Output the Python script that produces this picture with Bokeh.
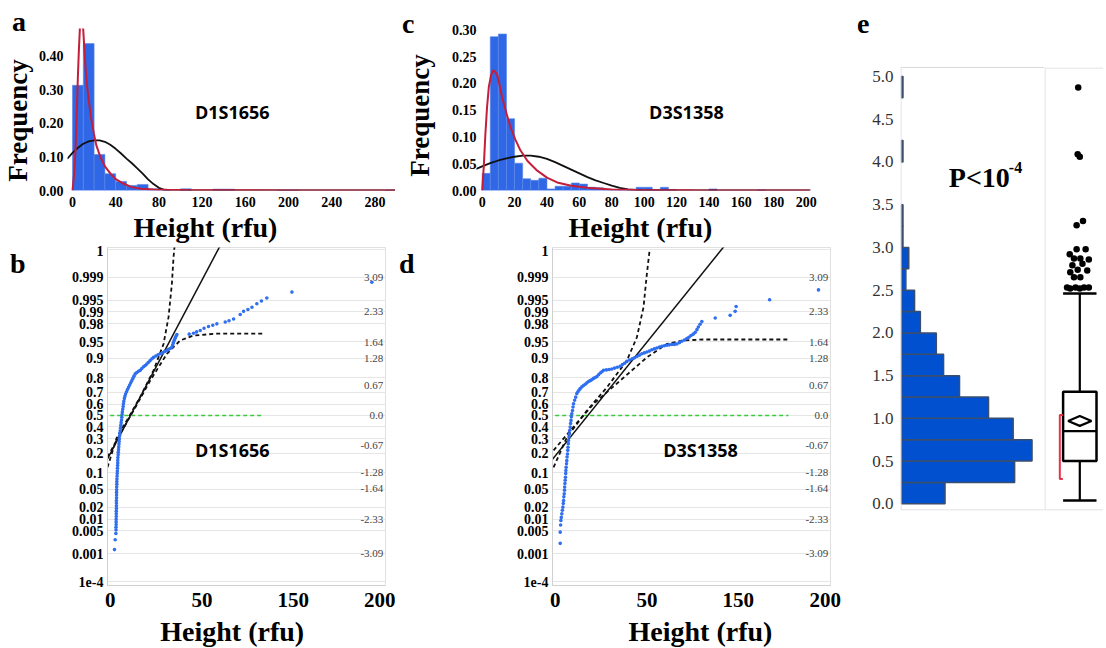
import math
from bokeh.plotting import figure
from bokeh.layouts import row, column
from bokeh.models import (FixedTicker, Label, Range1d, NumeralTickFormatter, LinearAxis, Title)
from bokeh.embed import file_html
from bokeh.resources import INLINE
from bokeh.core.properties import value

SERIF = "Liberation Serif"
SANS = "Open Sans"

# ---------------- panel a : D1S1656 frequency histogram ----------------
a_bin_left = list(range(0, 300, 10))
a_freq = [0.313, 0.437, 0.107, 0.050, 0.027, 0.015, 0.018, 0.005, 0.002, 0.0,
          0.005, 0.0, 0.0, 0.004, 0.004, 0.0, 0.0, 0.0, 0.0, 0.001,
          0.001, 0.0, 0.0, 0.0, 0.0, 0.0, 0.0, 0.0, 0.0, 0.001]
a_lognorm_x = [0, 1.5, 2.8, 3.5, 4.3, 5.0, 5.9, 6.8, 7.4, 8.0, 9.0, 9.9, 11.0, 12.0, 13.5, 15.1,
               17.0, 19.8, 22.0, 25.9, 30.0, 35.2, 40.0, 47.5, 55.0, 63.0, 75.0, 87.7, 110.0,
               149.0, 200.0, 303.0]
a_lognorm_y = [0, 0.05, 0.119, 0.19, 0.268, 0.34, 0.417, 0.48, 0.51, 0.52, 0.51, 0.48, 0.42, 0.367,
               0.31, 0.268, 0.22, 0.169, 0.135, 0.099, 0.072, 0.05, 0.034, 0.02, 0.010, 0.005,
               0.003, 0.002, 0.001, 0.0005, 0.0003, 0.0]
a_normal_x = [-5, 0, 5, 10, 15, 20, 25, 30, 35, 40, 45, 50, 55, 60, 65, 70, 75, 80, 85, 90, 305]
a_normal_y = [0.094, 0.112, 0.127, 0.139, 0.146, 0.149, 0.149, 0.145, 0.136, 0.124, 0.110, 0.095,
              0.081, 0.066, 0.050, 0.033, 0.019, 0.008, 0.002, 0.0, 0.0]
a_xticks = [0, 40, 80, 120, 160, 200, 240, 280]
a_yticks = [0.0, 0.1, 0.2, 0.3, 0.4]

# ---------------- panel c : D3S1358 frequency histogram ----------------
c_bin_left = list(range(0, 210, 5))
c_freq = [0.032, 0.287, 0.292, 0.134, 0.051, 0.022, 0.019, 0.023, 0.003, 0.008,
          0.008, 0.014, 0.012, 0.006, 0.005, 0.002, 0.002, 0.002, 0.001, 0.006,
          0.006, 0.002, 0.006, 0.002, 0.0, 0.0, 0.0, 0.0, 0.003, 0.0,
          0.0, 0.0, 0.0, 0.0, 0.001, 0.0, 0.0, 0.0, 0.0, 0.0, 0.0, 0.001]
c_lognorm_x = [0, 1.0, 2.0, 3.0, 4.1, 5.5, 6.8, 8.0, 9.3, 10.8, 12.3, 15.0, 17.5, 20.5, 23.6, 28.0,
               34.0, 40.0, 46.3, 55.0, 64.8, 80.0, 95.7, 130.0, 202.0]
c_lognorm_y = [0, 0.045, 0.106, 0.155, 0.193, 0.215, 0.224, 0.222, 0.215, 0.196, 0.174, 0.144, 0.118,
               0.095, 0.075, 0.055, 0.037, 0.024, 0.015, 0.009, 0.005, 0.002, 0.001, 0.0005, 0.0]
c_normal_x = [-4, 0, 5, 10, 15, 20, 25, 30, 35, 40, 45, 50, 55, 60, 65, 70, 75, 80, 85, 90, 95, 100, 205]
c_normal_y = [0.040, 0.045, 0.051, 0.056, 0.060, 0.063, 0.065, 0.065, 0.063, 0.059, 0.053, 0.046,
              0.039, 0.032, 0.025, 0.019, 0.014, 0.009, 0.005, 0.002, 0.001, 0.0, 0.0]
c_xticks = [0, 20, 40, 60, 80, 100, 120, 140, 160, 180, 200]
c_yticks = [0.0, 0.05, 0.10, 0.15, 0.20, 0.25, 0.30]

# ---------------- normal probability axis (shared by b and d) ----------------
prob_z = [3.719, 3.090, 2.576, 2.326, 2.054, 1.645, 1.282, 0.842, 0.524, 0.253, 0.0,
          -0.253, -0.524, -0.842, -1.282, -1.645, -2.054, -2.326, -2.576, -3.090, -3.719]
prob_labels = ["1", "0.999", "0.995", "0.99", "0.98", "0.95", "0.9", "0.8", "0.7", "0.6", "0.5",
               "0.4", "0.3", "0.2", "0.1", "0.05", "0.02", "0.01", "0.005", "0.001", "1e-4"]
zscore_vals = [3.09, 2.33, 1.64, 1.28, 0.67, 0.0, -0.67, -1.28, -1.64, -2.33, -3.09]
zscore_text = ["3.09", "2.33", "1.64", "1.28", "0.67", "0.0", "-0.67", "-1.28", "-1.64", "-2.33", "-3.09"]
pp_xticks = [0, 67.9, 135.6, 200]
pp_xlabels = ["0", "50", "150", "200"]

# ---------------- panel b : D1S1656 normal probability plot ----------------
b_x = [3.2, 3.7, 4.2, 4.3, 4.3, 4.4, 4.4, 4.4, 4.5, 4.5, 4.5, 4.6, 4.6, 4.6, 4.6, 4.7, 4.7, 4.7,
       4.8, 4.8, 4.9, 4.9, 5.0, 5.1, 5.2, 5.3, 5.4, 5.5, 5.6, 5.6, 5.7, 5.9, 6.0, 6.2, 6.3, 6.5,
       6.6, 6.8, 7.0, 7.2, 7.4, 7.6, 7.9, 8.1, 8.4, 8.6, 8.8, 9.0, 9.3, 9.6, 9.8, 10.1, 10.5,
       10.9, 11.4, 12.1, 12.8, 13.6, 14.4, 15.2, 16.0, 16.8, 17.6, 18.5, 19.7, 21.0, 22.2, 23.4,
       24.7, 25.9, 27.1, 28.4, 29.6, 30.9, 32.1, 33.8, 35.4, 37.0, 38.7, 40.3, 42.0, 43.2, 44.5,
       45.7, 46.3, 46.8, 47.4, 48.1, 48.7, 49.4,
       58.5, 61.7, 64.0, 66.7, 69.5, 72.8, 76.0, 79.0, 85.2, 88.0, 91.4, 96.3, 98.8, 102.0,
       105.0, 108.6, 112.0, 116.0, 134.6, 193.8]
b_z = [-3.00, -2.78, -2.64, -2.56, -2.50, -2.44, -2.38, -2.32, -2.26, -2.20, -2.14, -2.08, -2.02,
       -1.96, -1.90, -1.84, -1.78, -1.72, -1.66, -1.60, -1.54, -1.48, -1.42, -1.36, -1.30, -1.24,
       -1.18, -1.12, -1.06, -1.00, -0.94, -0.88, -0.82, -0.76, -0.70, -0.64, -0.58, -0.52, -0.46,
       -0.40, -0.34, -0.28, -0.22, -0.16, -0.10, -0.04, 0.02, 0.08, 0.14, 0.20, 0.26, 0.32, 0.38,
       0.43, 0.48, 0.53, 0.58, 0.63, 0.68, 0.73, 0.78, 0.83, 0.88, 0.93, 0.96, 0.99, 1.01, 1.05,
       1.09, 1.12, 1.15, 1.19, 1.23, 1.27, 1.30, 1.33, 1.36, 1.38, 1.40, 1.43, 1.45, 1.48, 1.50,
       1.53, 1.58, 1.63, 1.68, 1.73, 1.77, 1.81,
       1.82, 1.84, 1.87, 1.90, 1.95, 1.99, 2.02, 2.05, 2.09, 2.12, 2.16, 2.26, 2.33, 2.37,
       2.42, 2.50, 2.56, 2.63, 2.76, 2.98]
b_fit_x = [-2.0, 82.0]
b_fit_z = [-0.97, 3.83]
b_upper_x = [-2.0, 4.9, 12.3, 22.2, 32.1, 39.5, 43.2, 45.7, 46.9, 47.7]
b_upper_z = [-1.16, -0.49, -0.11, 0.41, 1.01, 1.60, 2.20, 2.95, 3.54, 3.80]
b_lower_x = [-2.0, 7.4, 17.3, 29.6, 42.0, 51.9, 61.7, 79.0, 113.6]
b_lower_z = [-0.93, -0.41, 0.11, 0.78, 1.38, 1.68, 1.79, 1.83, 1.83]
b_median_x = [0, 113.6]

# ---------------- panel d : D3S1358 normal probability plot ----------------
d_x = [3.7, 3.7, 4.0, 4.2, 4.5, 4.9, 5.3, 5.7, 6.0, 6.2, 6.4, 6.7, 6.9, 7.0, 7.2, 7.4, 7.6, 7.8,
       7.9, 8.1, 8.4, 8.6, 8.8, 9.1, 9.3, 9.5, 9.7, 9.9, 10.2, 10.5, 10.8, 11.1, 11.4, 11.7, 12.0,
       12.3, 12.8, 13.2, 13.6, 14.4, 15.2, 16.0, 16.8, 17.7, 18.5, 19.7, 21.0, 22.2, 23.5, 24.7,
       25.9, 27.1, 28.4, 29.6, 30.9, 32.1, 33.4, 34.6, 35.8, 37.9, 40.0, 42.0, 44.0, 46.0, 48.1,
       49.8, 51.4, 53.1, 55.0, 57.0, 58.7, 60.5, 62.3, 64.2, 66.0, 67.9, 69.7, 71.6, 73.4, 75.3,
       77.2, 79.0, 80.8, 82.7, 84.5, 86.4, 88.2, 90.1, 92.0, 93.8, 95.7, 97.5, 99.0, 100.6,
       102.2, 103.7, 105.0, 106.0, 107.3, 108.6, 118.5, 129.6, 133.3, 134.0, 158.8, 195.0]
d_z = [-2.86, -2.61, -2.45, -2.35, -2.28, -2.20, -2.12, -2.05, -1.97, -1.90, -1.82, -1.75, -1.67,
       -1.60, -1.52, -1.45, -1.38, -1.30, -1.23, -1.16, -1.08, -1.01, -0.93, -0.86, -0.78, -0.71,
       -0.63, -0.56, -0.48, -0.41, -0.33, -0.26, -0.18, -0.11, -0.03, 0.04, 0.11, 0.19, 0.26,
       0.34, 0.41, 0.49, 0.53, 0.57, 0.60, 0.64, 0.67, 0.70, 0.73, 0.76, 0.78, 0.80, 0.83, 0.85,
       0.87, 0.91, 0.95, 0.98, 1.01, 1.02, 1.03, 1.04, 1.06, 1.08, 1.10, 1.14, 1.17, 1.21, 1.24,
       1.27, 1.29, 1.32, 1.35, 1.38, 1.40, 1.42, 1.44, 1.47, 1.49, 1.51, 1.53, 1.55, 1.56, 1.57,
       1.58, 1.59, 1.59, 1.60, 1.63, 1.66, 1.69, 1.72, 1.75, 1.79, 1.82, 1.86, 1.92, 1.98, 2.04,
       2.10, 2.18, 2.24, 2.33, 2.44, 2.59, 2.81]
d_fit_x = [-2.0, 125.0]
d_fit_z = [-0.98, 3.78]
d_upper_x = [-1.2, 8.6, 23.5, 38.3, 53.1, 60.5, 65.4, 67.9, 69.9]
d_upper_z = [-1.16, -0.49, 0.11, 0.63, 1.23, 1.75, 2.42, 3.17, 3.69]
d_lower_x = [-1.2, 11.1, 28.4, 48.1, 67.9, 82.7, 95.1, 109.9, 172.8]
d_lower_z = [-0.78, -0.34, 0.26, 0.78, 1.30, 1.60, 1.68, 1.70, 1.70]
d_median_x = [0, 172.8]

# ---------------- panel e : distribution + box plot ----------------
e_bin_low = [0.0, 0.25, 0.5, 0.75, 1.0, 1.25, 1.5, 1.75, 2.0, 2.25, 2.5, 2.75, 3.0, 3.25,
             3.5, 3.75, 4.0, 4.25, 4.5, 4.75]
e_count = [30, 78, 90, 77, 60, 40, 29, 24, 13, 9, 3, 5, 1, 1, 0, 0, 1, 0, 0, 1]
e_yticks = [0.0, 0.5, 1.0, 1.5, 2.0, 2.5, 3.0, 3.5, 4.0, 4.5, 5.0]
box_q1, box_median, box_q3 = 0.50, 0.85, 1.31
box_mean = 0.97
whisker_low, whisker_high = 0.04, 2.46
shortest_half = [0.29, 1.04]
outlier_vals = [4.87, 4.09, 4.06, 3.26, 3.31, 2.98, 2.98, 2.92, 2.87, 2.87, 2.86, 2.81, 2.79,
                2.74, 2.73, 2.71, 2.65, 2.65, 2.53, 2.53, 2.53, 2.53, 2.52, 2.52]
outlier_jitter = [-0.03, -0.04, 0.0, -0.06, 0.06, -0.06, 0.11, -0.19, -0.11, 0.01, 0.17, 0.05,
                  -0.14, -0.04, 0.14, -0.18, -0.11, 0.01, -0.08, 0.08, -0.24, 0.17, -0.18, 0.0]


def make_fig(cw, ch, left, right, top, bottom, xr, yr, **kw):
    p = figure(width=cw, height=ch, frame_width=cw - left - right, frame_height=ch - top - bottom,
               min_border_left=left, min_border_right=right, min_border_top=top,
               min_border_bottom=bottom, x_range=Range1d(*xr), y_range=Range1d(*yr),
               toolbar_location=None, output_backend="svg", **kw)
    try:
        p.frame_align = False
    except Exception:
        pass
    p.background_fill_color = "white"
    p.border_fill_color = "white"
    return p


def style_axis(ax, size, standoff, color="black", bold=True):
    ax.axis_line_color = None
    ax.major_tick_line_color = None
    ax.minor_tick_line_color = None
    ax.major_tick_out = 0
    ax.major_tick_in = 0
    ax.minor_tick_out = 0
    ax.major_label_text_font = SERIF
    ax.major_label_text_font_style = "bold" if bold else "normal"
    ax.major_label_text_font_size = size
    ax.major_label_text_color = color
    ax.major_label_standoff = standoff


def text_axis(p, side, pos, text, size, standoff, orientation="horizontal"):
    ax = LinearAxis(ticker=FixedTicker(ticks=[pos]))
    ax.major_label_overrides = {pos: text}
    style_axis(ax, size, standoff)
    ax.major_label_orientation = orientation
    p.add_layout(ax, side)


def letter(p, text, offset, standoff):
    p.add_layout(Title(text=text, align="left", offset=offset, standoff=standoff,
                       vertical_align="middle", text_font=SERIF, text_font_size="28px",
                       text_font_style="bold", text_color="black"), "above")


def marker_label(p, x, y, text):
    p.add_layout(Label(x=x, y=y, text=text, text_font=SANS, text_font_size="18px",
                       text_font_style="bold", text_align="center", text_baseline="middle",
                       text_color="black"))


def hist_fig(cw, left, right, top, xr, yr, bins, wbin, freq, lx, ly, nx, ny, xticks, yticks,
             y_standoff, freq_pos, freq_standoff, height_pos, marker, marker_xy):
    p = make_fig(cw, 245, left, right, top, 55, xr, yr)
    keep = [i for i, f in enumerate(freq) if f > 0]
    p.quad(left=[bins[i] for i in keep], right=[bins[i] + wbin for i in keep], bottom=0,
           top=[freq[i] for i in keep], fill_color="#2f67e6", line_color="#5b86e6",
           line_width=0.6)
    p.line(nx, ny, line_color="#111111", line_width=1.8)
    p.line(lx, ly, line_color="#c41e3a", line_width=2.0)
    p.xaxis.ticker = FixedTicker(ticks=xticks)
    p.yaxis.ticker = FixedTicker(ticks=yticks)
    p.yaxis.formatter = NumeralTickFormatter(format="0.00")
    style_axis(p.xaxis[0], "14px", 6)
    style_axis(p.yaxis[0], "14px", y_standoff)
    p.grid.visible = False
    p.outline_line_color = None
    text_axis(p, "left", freq_pos, "Frequency", "27px", freq_standoff, "vertical")
    text_axis(p, "below", height_pos, "Height (rfu)", "28px", 2)
    marker_label(p, marker_xy[0], marker_xy[1], marker)
    return p


pa = hist_fig(395, 67, 0, 28, (-4.63, 299.07), (0, 0.482), a_bin_left, 10, a_freq,
              a_lognorm_x, a_lognorm_y, a_normal_x, a_normal_y, a_xticks, a_yticks,
              4, 0.208, 2, 123.1, "D1S1656", (147.9, 0.233))
letter(pa, "a", -55.5, -19)
pc = hist_fig(453, 81, 38, 29, (-3.5, 202.7), (0, 0.3004), c_bin_left, 5, c_freq,
              c_lognorm_x, c_lognorm_y, c_normal_x, c_normal_y, c_xticks, c_yticks,
              0, 0.140, 13, 97.7, "D3S1358", (126.1, 0.146))
letter(pc, "c", -74.5, -20)


def pp_fig(cw, left, right, px, pz, fit_x, fit_z, up_x, up_z, lo_x, lo_z, med_x, let,
           let_standoff, marker, height_pos):
    p = make_fig(cw, 403, left, right, 2, 63, (-2.0, 203.9), (-3.803, 3.758))
    p.yaxis.ticker = FixedTicker(ticks=prob_z)
    p.yaxis.major_label_overrides = dict(zip(prob_z, prob_labels))
    p.xaxis.ticker = FixedTicker(ticks=pp_xticks)
    p.xaxis.major_label_overrides = dict(zip(pp_xticks, pp_xlabels))
    style_axis(p.yaxis[0], "14px", 4)
    style_axis(p.xaxis[0], "21px", 7)
    p.yaxis.axis_line_color = "#d0d0d0"
    p.xaxis.axis_line_color = "#d0d0d0"
    p.ygrid.ticker = FixedTicker(ticks=prob_z)
    p.ygrid.grid_line_color = "#e6e6e6"
    p.xgrid.visible = False
    p.outline_line_color = "#e0e0e0"
    p.text(x=202.3, y=zscore_vals, text=zscore_text, text_align="right", text_baseline="middle",
           text_font=value(SERIF), text_font_size="11px", text_color="#444444")
    p.line(med_x, [0, 0], line_color="#3cc83c", line_width=1.6, line_dash="4 3")
    p.line(up_x, up_z, line_color="#111111", line_width=1.8, line_dash="4 3")
    p.line(lo_x, lo_z, line_color="#111111", line_width=1.8, line_dash="4 3")
    p.line(fit_x, fit_z, line_color="#111111", line_width=1.5)
    p.scatter(px, pz, size=3.6, fill_color="#2f6ff0", line_color=None)
    text_axis(p, "left", 3.40, let, "28px", let_standoff)
    text_axis(p, "below", height_pos, "Height (rfu)", "28px", 6)
    marker_label(p, height_pos, -0.77, marker)
    return p


pb = pp_fig(395, 107, 10, b_x, b_z, b_fit_x, b_fit_z, b_upper_x, b_upper_z, b_lower_x,
            b_lower_z, b_median_x, "b", 43, "D1S1656", 90.4)
pd_ = pp_fig(453, 157, 18, d_x, d_z, d_fit_x, d_fit_z, d_upper_x, d_upper_z, d_lower_x,
             d_lower_z, d_median_x, "d", 99, "D3S1358", 107.6)

# ---- panel e, histogram part ----
pe1 = make_fig(196, 648, 52, 0, 30, 138, (-0.7, 98.6), (-0.078, 5.538), x_axis_location=None)
pe1.hbar(y=[b + 0.125 for b, c in zip(e_bin_low, e_count) if c > 0], height=0.25, left=0,
         right=[c for c in e_count if c > 0], fill_color="#0050d0", line_color="#3a4f6e",
         line_width=1.5)
pe1.segment(x0=[-0.35, -0.35, -0.35], y0=[5.105, 5.105, -0.072],
            x1=[-0.35, 98.6, 98.6], y1=[-0.072, 5.105, -0.072], line_color="#d9d9d9",
            line_width=1)
pe1.yaxis.ticker = FixedTicker(ticks=e_yticks)
pe1.yaxis.formatter = NumeralTickFormatter(format="0.0")
style_axis(pe1.yaxis[0], "17px", 7, color="#333333", bold=False)
pe1.grid.visible = False
pe1.outline_line_color = None
letter(pe1, "e", -43.5, -6)
pe1.add_layout(Label(x=32.6, y=3.82, text="P<10", text_font=SERIF, text_font_size="28px",
                     text_font_style="bold", text_align="left", text_baseline="middle",
                     text_color="black"))
pe1.add_layout(Label(x=74.0, y=3.93, text="-4", text_font=SERIF, text_font_size="16px",
                     text_font_style="bold", text_align="left", text_baseline="middle",
                     text_color="black"))

# ---- panel e, box plot part ----
pe2 = make_fig(60, 648, 0, 1, 67, 138, (-0.666, 0.447), (-0.078, 5.105),
               x_axis_location=None, y_axis_location=None)
pe2.grid.visible = False
pe2.outline_line_color = None
pe2.segment(x0=[-0.657, -0.657, -0.657], y0=[5.099, 5.099, -0.072],
            x1=[-0.657, 0.447, 0.447], y1=[-0.072, 5.099, -0.072], line_color="#d9d9d9",
            line_width=1)
hw = 0.315
pe2.segment(x0=[0, 0], y0=[box_q3, box_q1], x1=[0, 0], y1=[whisker_high, whisker_low],
            line_color="black", line_width=2.2)
pe2.segment(x0=[-hw, -hw], y0=[whisker_high, whisker_low], x1=[hw, hw],
            y1=[whisker_high, whisker_low], line_color="black", line_width=2.5)
pe2.quad(left=-hw, right=hw, bottom=box_q1, top=box_q3, fill_color="white", line_color="black",
         line_width=2.5)
pe2.segment(x0=-hw, y0=box_median, x1=hw, y1=box_median, line_color="black", line_width=2.2)
pe2.patch(x=[-0.22, 0, 0.22, 0], y=[box_mean, box_mean + 0.058, box_mean, box_mean - 0.058],
          fill_color="white", line_color="black", line_width=2.2)
pe2.line(x=[-0.32, -0.377, -0.377, -0.32],
         y=[shortest_half[1], shortest_half[1], shortest_half[0], shortest_half[0]],
         line_color="#e8324a", line_width=2)
pe2.scatter(outlier_jitter, outlier_vals, size=6.5, fill_color="black", line_color=None)

layout = row(column(pa, pb), column(pc, pd_), pe1, pe2)
open("out.html", "w").write(file_html(layout, INLINE))
